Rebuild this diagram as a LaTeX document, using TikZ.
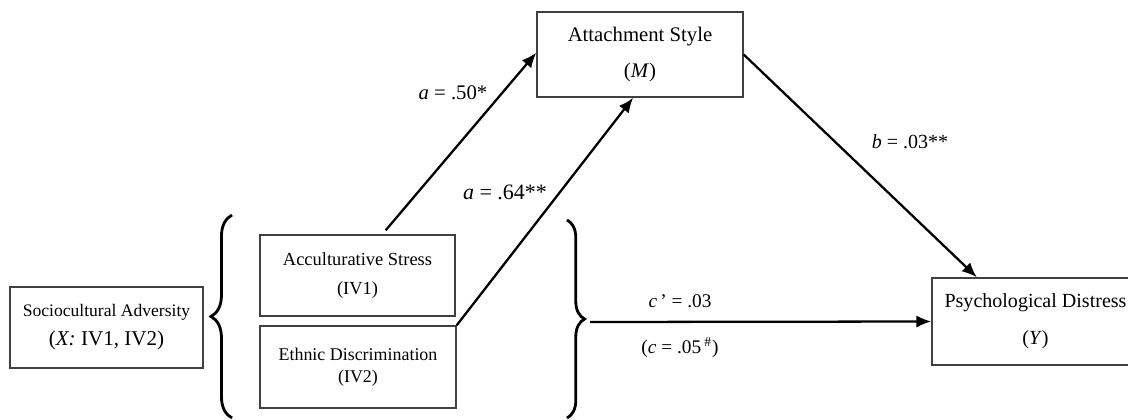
\documentclass[tikz,border=0pt]{standalone}
\usepackage{fontspec}
\setmainfont{Liberation Serif}
\usetikzlibrary{arrows.meta,decorations.pathreplacing}

\tikzset{
  varbox/.style={draw=black!75,line width=0.8pt,align=center,inner sep=0pt,
    font=\fontsize{#1}{12.6}\selectfont},
  varbox/.default=10.5,
  effect/.style={line width=1.3pt,-{Latex[length=8.5pt,width=7pt]}},
  coef/.style={font=\fontsize{#1}{13}\selectfont,inner sep=1pt},
  coef/.default=11,
  curly/.style={decorate,decoration={brace,amplitude=#1},line width=1.6pt}
}

\begin{document}
\begin{tikzpicture}[x=0.02cm,y=-0.02cm]
\useasboundingbox (0,0) rectangle (1128,419);

% variables
\node[varbox=10,minimum width=3.86cm,minimum height=1.62cm] (soc) at (106.5,327.5)
  {Sociocultural Adversity\\[4pt]{\fontsize{12}{14}\selectfont(\textit{X:} IV1, IV2)}};
\node[varbox,minimum width=3.9cm,minimum height=1.62cm] (acc) at (357.5,275.5)
  {Acculturative Stress\\[4.4pt](IV1)};
\node[varbox=10.2,minimum width=3.92cm,minimum height=1.64cm] (eth) at (358,367)
  {Ethnic Discrimination\\(IV2)};
\node[varbox=11.8,minimum width=4.12cm,minimum height=1.7cm] (att) at (640,54.5)
  {Attachment Style\\[8pt](\textit{M})};
\node[varbox=11.4,minimum width=4.14cm,minimum height=1.74cm] (psy) at (1035.5,321.5)
  {Psychological Distress\\[8.5pt](\textit{Y})};

% braces
\draw[curly=12pt] (232,418) -- (232,215);
\draw[curly=10pt] (567,220) -- (567,418);
\coordinate (rtip) at (590,322);

% paths
\draw[effect,shorten <=3pt] (acc.59) -- (att.179);
\draw[effect] (eth.north east) -- (att.261);
\draw[effect] (att.east) -- (psy.143);
\draw[effect] (rtip) -- (psy.west);

% coefficients
\node[coef=11.8] (ca1) at (453,93) {\textit{a} = .50*};
\node[coef=12.5] (ca2) at (505,192) {\textit{a} = .64**};
\node[coef=11.4] (cb) at (910,142) {\textit{b} = .03**};
\node[coef] (cc1) at (680,301) {\textit{c}\,’ = .03};
\node[coef] (cc2) at (680,348) {(\textit{c} = .05\,\textsuperscript{\#})};
\end{tikzpicture}
\end{document}
